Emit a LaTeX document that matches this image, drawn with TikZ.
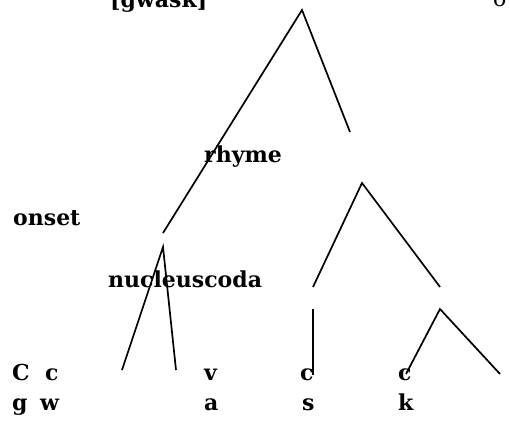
\documentclass[tikz,border=0pt]{standalone}
\usepackage{fontspec}
\setmainfont{DejaVu Serif}
\usetikzlibrary{calc}
\tikzset{
	seg/.style={line width=0.6mm},
	lab/.style={anchor=base west, inner sep=0pt, font=\fontsize{22}{26}\selectfont\bfseries},
	plainlab/.style={anchor=base west, inner sep=0pt, font=\fontsize{22}{26}\selectfont},
}
\begin{document}
\begin{tikzpicture}[x=1pt,y=-1pt]
			%%%%% START %%%%%
			\useasboundingbox (0,0) rectangle (510,423);
			
			\node[lab] (word) at (110,7) {[gwask]};
			\node[plainlab] (sigma) at (493,6) {σ};
			
			\node[lab] (rhyme) at (204,162) {rhyme};
			\node[lab] (onset) at (13,225) {onset};
			\node[lab] (nuccoda) at (108,287) {nucleuscoda};
			
			\node[lab] (C1) at (12,380) {C};
			\node[lab] (c1) at (45,380) {c};
			\node[lab] (v1) at (204,380) {v};
			\node[lab] (c2) at (300,380) {c};
			\node[lab] (c3) at (398,380) {c};
			
			\node[lab] (g) at (12,410) {g};
			\node[lab] (w) at (40,410) {w};
			\node[lab] (a) at (204,410) {a};
			\node[lab] (s) at (302,410) {s};
			\node[lab] (k) at (398,410) {k};
			
			\coordinate (sTop) at (302,10);
			\coordinate (sL) at (163,233);
			\coordinate (sR) at (350,132);
			\draw[seg] (sL) -- (sTop) -- (sR);
			
			\coordinate (rTop) at (362,183);
			\coordinate (rL) at (313,287);
			\coordinate (rR) at (440,287);
			\draw[seg] (rL) -- (rTop) -- (rR);
			
			\coordinate (nTop) at (163,247);
			\coordinate (nL) at (122,370);
			\coordinate (nR) at (176,370);
			\draw[seg] (nL) -- (nTop) -- (nR);
			
			\coordinate (vTop) at (313,309);
			\coordinate (vBot) at (313,375);
			\draw[seg] (vTop) -- (vBot);
			
			\coordinate (cTop) at (440,309);
			\coordinate (cL) at (406,374);
			\coordinate (cR) at (500,374);
			\draw[seg] (cL) -- (cTop) -- (cR);
			
			%%%%% END %%%%%
\end{tikzpicture}
\end{document}
